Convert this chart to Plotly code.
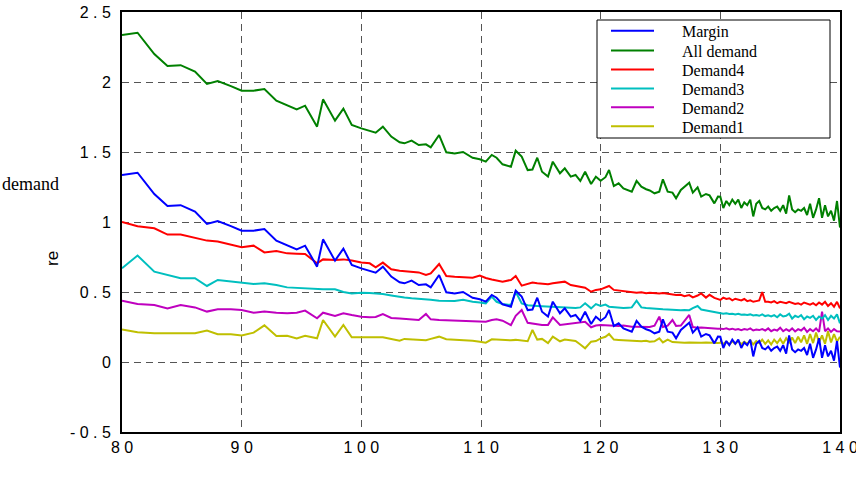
import plotly.graph_objects as go

# ---------------- data ----------------
x_vals = [80.0, 81.3, 82.7, 83.8, 84.9, 86.1, 87.1, 88.0, 89.1, 90.0, 91.0, 91.9, 92.9, 93.8, 94.6,
          95.3, 96.3, 96.8, 97.8, 98.5, 99.2,
          100.0, 100.7, 101.2, 101.8, 102.5, 103.2, 103.6, 104.2, 104.8, 105.4, 105.8, 106.5, 107.1,
          107.8, 108.5, 109.3, 109.9, 110.4, 110.9, 111.3, 111.8, 112.5, 112.9, 113.4, 113.9, 114.3,
          114.7, 115.1, 115.6, 116.0, 116.6, 117.0, 117.5, 117.9, 118.3, 118.7, 119.2, 119.6,
          120.0, 120.4, 120.7, 121.1, 121.5, 121.9, 122.3, 122.6, 123.0, 123.4, 123.8, 124.1, 124.5,
          124.9, 125.2, 125.6, 126.0, 126.3, 126.7, 127.0, 127.4, 127.7, 128.1, 128.4, 128.8, 129.1,
          129.5, 129.8,
          130.0, 130.25, 130.5, 130.75, 131.0, 131.25, 131.5, 131.75, 132.0, 132.25, 132.5, 132.75,
          133.0, 133.25, 133.5, 133.75, 134.0, 134.25, 134.5, 134.75, 135.0, 135.25, 135.5, 135.75,
          136.0, 136.25, 136.5, 136.75, 137.0, 137.25, 137.5, 137.75, 138.0, 138.25, 138.5, 138.75,
          139.0, 139.25, 139.5, 139.75, 140.0]

all_demand = [2.336, 2.352, 2.20, 2.114, 2.12, 2.074, 1.986, 2.007, 1.971, 1.938, 1.938, 1.95, 1.867,
              1.836, 1.805, 1.831, 1.681, 1.876, 1.724, 1.81, 1.693,
              1.669, 1.65, 1.638, 1.681, 1.61, 1.569, 1.562, 1.581, 1.55, 1.555, 1.533, 1.621, 1.498,
              1.49, 1.50, 1.459, 1.448, 1.431, 1.479, 1.459, 1.412, 1.395, 1.509, 1.467, 1.371, 1.375,
              1.459, 1.359, 1.324, 1.431, 1.348, 1.383, 1.324, 1.336, 1.293, 1.359, 1.271, 1.324,
              1.295, 1.32, 1.371, 1.257, 1.276, 1.24, 1.225, 1.217, 1.293, 1.252, 1.234, 1.225, 1.205,
              1.217, 1.305, 1.217, 1.21, 1.169, 1.229, 1.25, 1.281, 1.21, 1.248, 1.181, 1.20, 1.19,
              1.133, 1.181,
              1.18, 1.10, 1.15, 1.12, 1.16, 1.13, 1.16, 1.10, 1.14, 1.12, 1.16, 1.04, 1.13, 1.15, 1.10,
              1.09, 1.11, 1.08, 1.10, 1.11, 1.08, 1.12, 1.06, 1.19, 1.09, 1.07, 1.09, 1.08, 1.10, 1.05,
              1.13, 1.03, 1.09, 1.17, 1.03, 1.12, 1.04, 1.08, 1.01, 1.15, 0.96]

margin = [1.336, 1.352, 1.20, 1.114, 1.12, 1.074, 0.986, 1.007, 0.971, 0.938, 0.938, 0.95, 0.867,
          0.836, 0.805, 0.831, 0.681, 0.876, 0.724, 0.81, 0.693,
          0.669, 0.65, 0.638, 0.681, 0.61, 0.569, 0.562, 0.581, 0.55, 0.555, 0.533, 0.621, 0.498,
          0.49, 0.50, 0.459, 0.448, 0.431, 0.479, 0.459, 0.412, 0.395, 0.509, 0.467, 0.371, 0.375,
          0.459, 0.359, 0.324, 0.431, 0.348, 0.383, 0.324, 0.336, 0.293, 0.359, 0.271, 0.324,
          0.295, 0.32, 0.371, 0.257, 0.276, 0.24, 0.225, 0.217, 0.293, 0.252, 0.234, 0.225, 0.205,
          0.217, 0.305, 0.217, 0.21, 0.169, 0.229, 0.25, 0.281, 0.21, 0.248, 0.181, 0.20, 0.19,
          0.133, 0.181,
          0.18, 0.10, 0.15, 0.12, 0.16, 0.13, 0.16, 0.10, 0.14, 0.12, 0.16, 0.04, 0.13, 0.15, 0.10,
          0.09, 0.11, 0.08, 0.10, 0.11, 0.08, 0.12, 0.06, 0.19, 0.09, 0.07, 0.09, 0.08, 0.10, 0.05,
          0.13, 0.03, 0.09, 0.17, 0.03, 0.12, 0.04, 0.08, 0.01, 0.15, -0.04]

demand4 = [1.00, 0.97, 0.955, 0.91, 0.91, 0.888, 0.867, 0.86, 0.836, 0.82, 0.831, 0.783, 0.793,
           0.776, 0.774, 0.771, 0.705, 0.733, 0.729, 0.733, 0.725,
           0.71, 0.705, 0.676, 0.71, 0.662, 0.652, 0.65, 0.645, 0.64, 0.621, 0.633, 0.70, 0.614,
           0.609, 0.605, 0.602, 0.617, 0.60, 0.59, 0.585, 0.574, 0.586, 0.614, 0.545, 0.56, 0.567,
           0.562, 0.558, 0.555, 0.562, 0.567, 0.574, 0.55, 0.545, 0.54, 0.531, 0.502, 0.515,
           0.519, 0.53, 0.543, 0.515, 0.51, 0.508, 0.505, 0.50, 0.495, 0.498, 0.492, 0.495, 0.49,
           0.49, 0.492, 0.485, 0.482, 0.478, 0.48, 0.47, 0.478, 0.462, 0.475, 0.49, 0.46, 0.48,
           0.458, 0.45,
           0.443, 0.46, 0.45, 0.455, 0.44, 0.452, 0.445, 0.44, 0.45, 0.435, 0.44, 0.43, 0.435, 0.44,
           0.50, 0.43, 0.43, 0.425, 0.435, 0.42, 0.43, 0.425, 0.42, 0.43, 0.42, 0.415, 0.42, 0.41,
           0.425, 0.415, 0.41, 0.42, 0.405, 0.425, 0.41, 0.43, 0.40, 0.42, 0.395, 0.43, 0.383]

demand3 = [0.669, 0.76, 0.645, 0.621, 0.598, 0.598, 0.543, 0.586, 0.574, 0.567, 0.557, 0.562, 0.55,
           0.533, 0.53, 0.526, 0.519, 0.519, 0.519, 0.50, 0.49,
           0.495, 0.492, 0.49, 0.485, 0.475, 0.462, 0.46, 0.455, 0.452, 0.45, 0.445, 0.438, 0.436,
           0.435, 0.445, 0.43, 0.425, 0.419, 0.467, 0.43, 0.415, 0.407, 0.502, 0.419, 0.405, 0.40,
           0.40, 0.398, 0.395, 0.392, 0.39, 0.388, 0.383, 0.385, 0.39, 0.419, 0.383, 0.414,
           0.40, 0.41, 0.395, 0.39, 0.388, 0.385, 0.388, 0.39, 0.438, 0.39, 0.385, 0.382, 0.38,
           0.378, 0.376, 0.375, 0.372, 0.373, 0.37, 0.372, 0.37, 0.385, 0.40, 0.375, 0.368, 0.362,
           0.355, 0.352,
           0.35, 0.345, 0.348, 0.343, 0.345, 0.34, 0.345, 0.338, 0.34, 0.336, 0.34, 0.333, 0.335,
           0.33, 0.34, 0.328, 0.333, 0.325, 0.335, 0.32, 0.34, 0.325, 0.33, 0.345, 0.31, 0.33, 0.32,
           0.335, 0.305, 0.325, 0.315, 0.33, 0.30, 0.325, 0.31, 0.335, 0.30, 0.33, 0.31, 0.34, 0.276]

demand2 = [0.438, 0.414, 0.407, 0.383, 0.407, 0.39, 0.36, 0.376, 0.376, 0.371, 0.352, 0.36, 0.352,
           0.348, 0.352, 0.367, 0.312, 0.352, 0.329, 0.348, 0.335,
           0.324, 0.32, 0.322, 0.343, 0.315, 0.31, 0.307, 0.305, 0.30, 0.343, 0.305, 0.30, 0.298,
           0.297, 0.295, 0.29, 0.288, 0.288, 0.30, 0.305, 0.295, 0.264, 0.33, 0.371, 0.28, 0.276,
           0.268, 0.264, 0.265, 0.319, 0.265, 0.27, 0.278, 0.28, 0.285, 0.288, 0.248, 0.26,
           0.264, 0.262, 0.26, 0.257, 0.258, 0.26, 0.255, 0.252, 0.252, 0.25, 0.252, 0.25, 0.26,
           0.324, 0.25, 0.26, 0.30, 0.258, 0.26, 0.29, 0.336, 0.25, 0.245, 0.247, 0.243, 0.242,
           0.24, 0.238,
           0.238, 0.235, 0.24, 0.232, 0.238, 0.23, 0.236, 0.228, 0.235, 0.23, 0.24, 0.225, 0.232,
           0.228, 0.235, 0.225, 0.24, 0.22, 0.232, 0.225, 0.245, 0.22, 0.235, 0.222, 0.24, 0.218,
           0.235, 0.225, 0.245, 0.215, 0.235, 0.22, 0.24, 0.215, 0.36, 0.22, 0.24, 0.215, 0.235,
           0.22, 0.217]

demand1 = [0.233, 0.212, 0.205, 0.205, 0.205, 0.205, 0.224, 0.198, 0.198, 0.19, 0.21, 0.262, 0.186,
           0.188, 0.169, 0.188, 0.169, 0.30, 0.181, 0.264, 0.176,
           0.176, 0.175, 0.172, 0.176, 0.165, 0.152, 0.165, 0.163, 0.162, 0.155, 0.165, 0.181, 0.163,
           0.16, 0.158, 0.152, 0.145, 0.138, 0.162, 0.16, 0.158, 0.155, 0.158, 0.152, 0.148, 0.229,
           0.16, 0.165, 0.135, 0.181, 0.148, 0.16, 0.155, 0.15, 0.125, 0.098, 0.145, 0.15,
           0.169, 0.18, 0.20, 0.16, 0.158, 0.155, 0.153, 0.15, 0.15, 0.148, 0.152, 0.145, 0.148,
           0.169, 0.14, 0.16, 0.142, 0.14, 0.14, 0.138, 0.14, 0.138, 0.14, 0.137, 0.14, 0.138,
           0.14, 0.135,
           0.138, 0.13, 0.145, 0.125, 0.148, 0.13, 0.15, 0.128, 0.145, 0.13, 0.155, 0.125, 0.15,
           0.135, 0.16, 0.13, 0.155, 0.125, 0.16, 0.135, 0.165, 0.13, 0.17, 0.14, 0.175, 0.135, 0.18,
           0.14, 0.19, 0.13, 0.2, 0.135, 0.21, 0.14, 0.19, 0.13, 0.22, 0.14, 0.2, 0.145, 0.181]

series_names = ["Margin", "All demand", "Demand4", "Demand3", "Demand2", "Demand1"]
series_colors = ["#0000FF", "#008000", "#FF0000", "#00BFBF", "#BF00BF", "#BFBF00"]
series_values = [margin, all_demand, demand4, demand3, demand2, demand1]

x_ticks = [80, 90, 100, 110, 120, 130, 140]
x_tick_text = ["8 0", "9 0", "1 0 0", "1 1 0", "1 2 0", "1 3 0", "1 4 0"]
y_ticks = [-0.5, 0, 0.5, 1, 1.5, 2, 2.5]
y_tick_text = ["- 0 . 5", "0", "0 . 5", "1", "1 . 5", "2", "2 . 5"]

# ---------------- figure ----------------
W, H = 856, 484
L, R, T, B = 122, 16, 12, 52
pw, ph = W - L - R, H - T - B


def px(xp):
    return (xp - L) / pw


def py(yp):
    return (H - B - yp) / ph


fig = go.Figure()
# draw back-to-front so Margin ends up on top like the reference
for name, col, vals in reversed(list(zip(series_names, series_colors, series_values))):
    fig.add_trace(go.Scatter(x=x_vals, y=vals, mode="lines", name=name,
                             line=dict(color=col, width=2), showlegend=False))

tick_font = dict(family="Liberation Sans", size=16, color="black")
grid = dict(showgrid=True, gridcolor="#555555", gridwidth=1, griddash="7px,5px",
            showline=True, linecolor="black", linewidth=2, mirror=True, zeroline=False,
            ticks="", tickfont=tick_font, automargin=False)

fig.update_xaxes(range=[80, 140], tickvals=x_ticks, ticktext=x_tick_text,
                 ticklabelstandoff=0, ticklabeloverflow="allow", **grid)
fig.update_yaxes(range=[-0.5, 2.5], tickvals=y_ticks, ticktext=y_tick_text,
                 ticklabelstandoff=6, **grid)

# legend box (drawn as shapes + text)
shapes = [dict(type="rect", xref="paper", yref="paper", x0=px(597), x1=px(830), y0=py(138), y1=py(20),
               fillcolor="white", line=dict(color="black", width=1), layer="above")]
annotations = []
row_y = [30.7, 50.5, 69.5, 88.5, 107.3, 126.2]
serif = "Liberation Serif"
for name, col, ry in zip(series_names, series_colors, row_y):
    shapes.append(dict(type="line", xref="paper", yref="paper", x0=px(611), x1=px(654),
                       y0=py(ry), y1=py(ry), line=dict(color=col, width=2), layer="above"))
    annotations.append(dict(xref="paper", yref="paper", x=px(680), y=py(ry + 1), text=name,
                            showarrow=False, xanchor="left", yanchor="middle",
                            font=dict(family=serif, size=16, color="black")))

annotations.append(dict(xref="paper", yref="paper", x=px(61), y=py(184), text="demand",
                        showarrow=False, xanchor="right", yanchor="middle",
                        font=dict(family=serif, size=18, color="black")))
annotations.append(dict(xref="paper", yref="paper", x=px(52), y=py(259), text="re",
                        showarrow=False, xanchor="center", yanchor="middle", textangle=-90,
                        font=dict(family="Liberation Sans", size=17, color="black")))

fig.update_layout(width=W, height=H, margin=dict(l=L, r=R, t=T, b=B),
                  plot_bgcolor="white", paper_bgcolor="white",
                  shapes=shapes, annotations=annotations, showlegend=False)

fig.write_html("out.html")
